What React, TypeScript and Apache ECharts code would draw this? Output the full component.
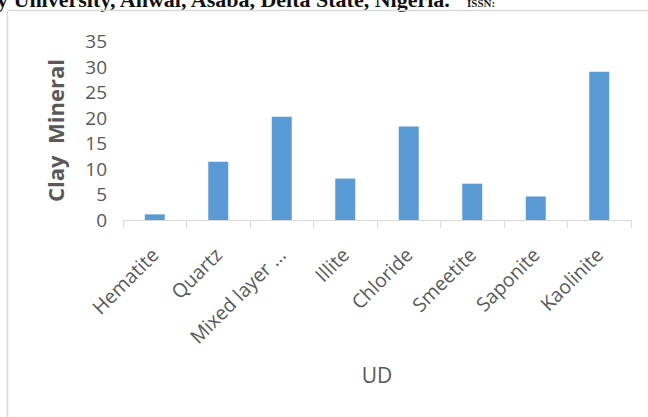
import React, { useEffect, useRef } from "react";
import * as echarts from "echarts";

// Clay mineral composition for the UD sample
const categories = [
  "Hematite",
  "Quartz",
  "Mixed layer ...",
  "Illite",
  "Chloride",
  "Smeetite",
  "Saponite",
  "Kaolinite",
];
const values = [1.1, 11.4, 20.2, 8.1, 18.3, 7.1, 4.6, 29.0];

// Running header of the page the chart sits on (its top is clipped)
const headerLine = "y University, Anwai, Asaba, Delta State, Nigeria.";
const headerTail = "ISSN:";

const AXIS_FONT = "'Open Sans', sans-serif";
const TEXT_GREY = "#595959";
const LINE_GREY = "#d9d9d9";

export default function App() {
  const ref = useRef<HTMLDivElement>(null);

  useEffect(() => {
    if (!ref.current) return;
    const chart = echarts.init(ref.current, null, { renderer: "svg" });

    chart.setOption({
      animation: false,
      backgroundColor: "#ffffff",
      graphic: [
        {
          type: "text",
          x: -3,
          y: 10,
          silent: true,
          style: {
            text: headerLine,
            fill: "#111",
            font: "bold 22px 'Liberation Serif', serif",
            verticalAlign: "bottom",
            align: "left",
          },
        },
        {
          type: "text",
          x: 467,
          y: 8,
          silent: true,
          style: {
            text: headerTail,
            fill: "#222",
            font: "bold 11px 'Liberation Serif', serif",
            verticalAlign: "bottom",
            align: "left",
          },
        },
        // chart frame (top and left edges visible)
        {
          type: "line",
          silent: true,
          shape: { x1: 7.5, y1: 10.5, x2: 648, y2: 10.5 },
          style: { stroke: LINE_GREY, lineWidth: 1.5 },
        },
        {
          type: "line",
          silent: true,
          shape: { x1: 7.5, y1: 10.5, x2: 7.5, y2: 417 },
          style: { stroke: LINE_GREY, lineWidth: 1.5 },
        },
      ],
      grid: { left: 123, right: 17, top: 41, bottom: 197, containLabel: false },
      xAxis: {
        type: "category",
        data: categories,
        name: "UD",
        nameLocation: "middle",
        nameGap: 144,
        nameTextStyle: { fontSize: 21, color: TEXT_GREY, fontFamily: AXIS_FONT },
        axisLine: { show: true, lineStyle: { color: LINE_GREY, width: 1 } },
        axisTick: { show: true, length: 8, alignWithLabel: false, lineStyle: { color: LINE_GREY } },
        axisLabel: {
          interval: 0,
          rotate: 45,
          margin: 31,
          fontSize: 19.5,
          color: TEXT_GREY,
          fontFamily: AXIS_FONT,
        },
        splitLine: { show: false },
      },
      yAxis: {
        type: "value",
        min: 0,
        max: 35,
        interval: 5,
        name: "Clay  Mineral",
        nameLocation: "middle",
        nameGap: 57,
        nameTextStyle: {
          fontSize: 22,
          fontWeight: "bold",
          color: TEXT_GREY,
          fontFamily: AXIS_FONT,
        },
        axisLine: { show: false },
        axisTick: { show: false },
        splitLine: { show: false },
        axisLabel: { fontSize: 19, color: TEXT_GREY, margin: 16, fontFamily: AXIS_FONT },
      },
      series: [
        {
          type: "bar",
          data: values,
          barWidth: 20,
          itemStyle: { color: "#5b9bd5" },
        },
      ],
    });

    return () => chart.dispose();
  }, []);

  return (
    <div
      ref={ref}
      style={{ position: "absolute", left: 0, top: 0, width: 648, height: 417 }}
    />
  );
}
